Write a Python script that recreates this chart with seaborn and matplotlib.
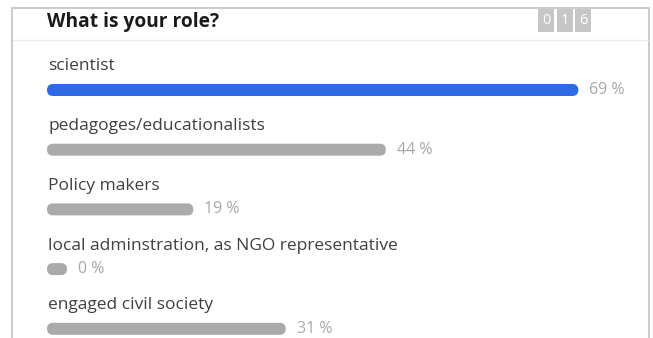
import matplotlib
matplotlib.use("Agg")
import matplotlib.pyplot as plt
from matplotlib.patches import FancyBboxPatch, Rectangle
from matplotlib.lines import Line2D
import seaborn as sns
import pandas as pd

# Poll data
question = "What is your role?"
roles = [
    "scientist",
    "pedagoges/educationalists",
    "Policy makers",
    "local adminstration, as NGO representative",
    "engaged civil society",
]
shares = [69, 44, 19, 0, 31]
bar_colors = ["#2f6ae6", "#aaaaaa", "#aaaaaa", "#aaaaaa", "#aaaaaa"]
respondent_digits = ["0", "1", "6"]

W, H, DPI = 653, 338, 100

sns.set_theme(style="white")
plt.rcParams["font.family"] = ["Open Sans", "DejaVu Sans"]

fig = plt.figure(figsize=(W / DPI, H / DPI), dpi=DPI)
fig.patch.set_facecolor("white")
ax = fig.add_axes([0, 0, 1, 1])

# layout in pixels
PX_PER_PCT = 7.7      # horizontal scale of the bars
BAR_X0 = 47           # left edge of the bars
ROW0 = 90             # centre of first bar
ROW_STEP = 59.7       # distance between rows
BAR_H = 12            # bar thickness
MIN_BAR = 20          # smallest drawn pill

df = pd.DataFrame({"role": roles, "share": shares})
sns.barplot(data=df, y="role", x="share", hue="role", palette=bar_colors,
            orient="h", width=BAR_H / ROW_STEP, legend=False, ax=ax,
            saturation=1)

ax.set_xlim(-BAR_X0 / PX_PER_PCT, (W - BAR_X0) / PX_PER_PCT)
ax.set_ylim((H - ROW0) / ROW_STEP, -ROW0 / ROW_STEP)
ax.axis("off")

# turn the seaborn bars into rounded pills
min_w = MIN_BAR / PX_PER_PCT
bars = list(ax.patches)
for bar, role, val in zip(bars, roles, shares):
    x, y = bar.get_x(), bar.get_y()
    w, h = bar.get_width(), bar.get_height()
    col = bar.get_facecolor()
    bar.remove()
    w = max(w, min_w)
    pill = FancyBboxPatch((x, y), w, h,
                          boxstyle=f"round,pad=0,rounding_size={BAR_H / 2 / PX_PER_PCT}",
                          mutation_aspect=PX_PER_PCT / ROW_STEP,
                          facecolor=col, edgecolor="none")
    ax.add_patch(pill)
    yc = y + h / 2
    ax.text(x + w + 11 / PX_PER_PCT, yc, f"{val} %", va="center", ha="left",
            fontsize=11.5, color="#a8a8a8")
    ax.text(x + 1 / PX_PER_PCT, yc - 23.5 / ROW_STEP, role, va="center", ha="left",
            fontsize=12.5, color="#404040")


def fx(px):
    return px / W


def fy(py):
    return 1 - py / H


# card frame
frame_col = "#cccccc"
for xs, ys in [((12, 12), (8, H)), ((12, 649), (8, 8)), ((649, 649), (8, H))]:
    fig.add_artist(Line2D([fx(v) for v in xs], [fy(v) for v in ys],
                          color=frame_col, lw=1.5))
fig.add_artist(Line2D([fx(13), fx(648)], [fy(40), fy(40)], color="#eeeeee", lw=1))

# question title
fig.text(fx(47), fy(22), question, fontsize=13.8, fontweight="bold",
         color="#1a1a1a", va="center", ha="left")

# respondent counter
for i, d in enumerate(respondent_digits):
    x0 = 538 + i * 18.5
    fig.add_artist(Rectangle((fx(x0), fy(32)), 16 / W, 24 / H,
                             facecolor="#c6c6c6", edgecolor="none",
                             transform=fig.transFigure))
    fig.text(fx(x0 + 8), fy(20), d, fontsize=10.5, color="white",
             ha="center", va="center")

fig.savefig("out.png", dpi=DPI, facecolor="white")
